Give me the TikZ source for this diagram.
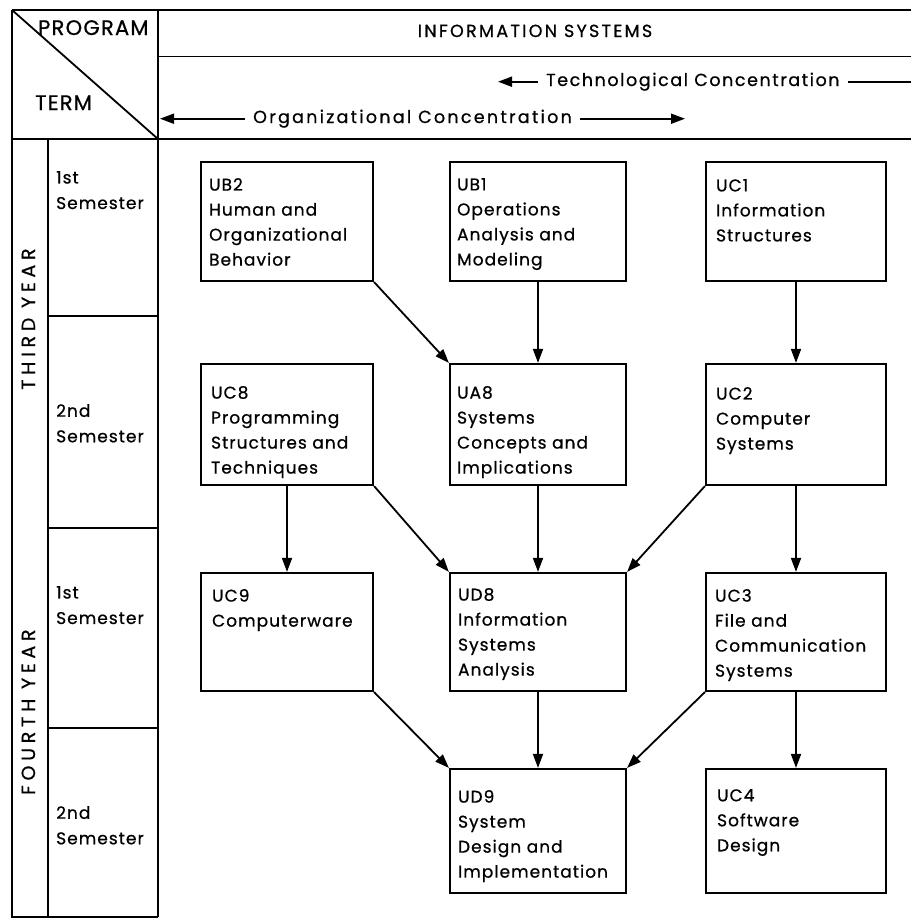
\documentclass[tikz,border=0pt]{standalone}
\usepackage{fontspec}
\setmainfont{Poppins}[LetterSpace=6,FakeBold=0.7]
\newfontfamily\yearfont{Poppins}[LetterSpace=25,FakeBold=0.7]
\newfontfamily\headfont{Poppins}[LetterSpace=13,FakeBold=0.7]
\newfontfamily\techfont{Poppins}[LetterSpace=9,FakeBold=0.7]
\usetikzlibrary{arrows.meta}

\begin{document}
\begin{tikzpicture}[x=1pt,y=-1pt,
  rule/.style={line width=1.8pt},
  box/.style 2 args={draw, line width=2.2pt, inner sep=0pt,
                     minimum width=#1, minimum height=#2},
  btxt/.style={font=\fontsize{17}{25}\selectfont, align=left, inner sep=0pt, anchor=north west},
  semtxt/.style={font=\fontsize{17}{25.5}\selectfont, align=left, inner sep=0pt, anchor=north west},
  headtxt/.style={font=\headfont\fontsize{17.5}{20}\selectfont, inner sep=0pt, anchor=base west},
  bigtxt/.style={font=\fontsize{21}{24}\selectfont, inner sep=0pt, anchor=base west},
  yeartxt/.style={font=\yearfont\fontsize{19}{20}\selectfont, inner sep=0pt, rotate=90, anchor=base west},
  arr/.style={line width=1.8pt, -{Triangle[length=14pt,width=10pt]}}]

% canvas
\fill[white] (0,0) rectangle (911,919);
\useasboundingbox (0,0) rectangle (911,919);

% table grid
\draw[rule] (12,10) -- (911,10);
\draw[rule] (158,56.5) -- (911,56.5);
\draw[rule] (12,139) -- (911,139);
\draw[rule] (12,10) -- (12,917) -- (158,917);
\draw[rule] (158,10) -- (158,917);
\draw[rule] (48,139) -- (48,917);
\draw[rule] (12,10) -- (158,139);
\draw[rule] (48,316) -- (158,316);
\draw[rule] (48,528) -- (158,528);
\draw[rule] (48,728) -- (158,728);

% header
\node[bigtxt] (prog) at (38,35) {PROGRAM};
\node[bigtxt] (term) at (35,110) {TERM};
\node[headtxt, anchor=base] (infosys) at (535,37) {INFORMATION SYSTEMS};

\node[headtxt, font=\techfont\fontsize{17.5}{20}\selectfont] (tech) at (546,86) {Technological Concentration};
\coordinate (techL) at (498,80);
\coordinate (techR) at (911,80);
\draw[arr] ([xshift=-8pt]tech.west) -- (techL |- tech.west);
\draw[line width=1.8pt] ([xshift=8pt]tech.east) -- (techR |- tech.east);

\node[headtxt] (org) at (253,123) {Organizational Concentration};
\coordinate (orgL) at (160,117);
\coordinate (orgR) at (685,117);
\draw[arr] ([xshift=-8pt]org.west) -- (orgL |- org.west);
\draw[arr] ([xshift=8pt]org.east) -- (orgR |- org.east);

% years and terms
\node[yeartxt] (y3) at (35,390) {THIRD YEAR};
\node[yeartxt] (y4) at (35,795) {FOURTH YEAR};

\node[semtxt] (t1) at (56,171) {1st\\Semester};
\node[semtxt] (t2) at (56,404) {2nd\\Semester};
\node[semtxt] (t3) at (56,586) {1st\\Semester};
\node[semtxt] (t4) at (56,806) {2nd\\Semester};

% course boxes
\node[box={172pt}{119pt}] (ub2) at (287,221.5) {};
\node[box={176pt}{119pt}] (ub1) at (538,221.5) {};
\node[box={180pt}{119pt}] (uc1) at (796,221.5) {};

\node[box={172pt}{121pt}] (uc8) at (287,424.5) {};
\node[box={176pt}{121pt}] (ua8) at (538,424.5) {};
\node[box={180pt}{121pt}] (uc2) at (796,424.5) {};

\node[box={172pt}{118pt}] (uc9) at (287,632) {};
\node[box={176pt}{118pt}] (ud8) at (538,632) {};
\node[box={180pt}{118pt}] (uc3) at (796,632) {};

\node[box={176pt}{124pt}] (ud9) at (538,831) {};
\node[box={180pt}{124pt}] (uc4) at (796,831) {};

% course texts
\node[btxt] (ub2t) at ([shift={(9,17)}]ub2.north west) {UB2\\Human and\\Organizational\\Behavior};
\node[btxt] (ub1t) at ([shift={(8,17)}]ub1.north west) {UB1\\Operations\\Analysis and\\Modeling};
\node[btxt] (uc1t) at ([shift={(11,18)}]uc1.north west) {UC1\\Information\\Structures};

\node[btxt] (uc8t) at ([shift={(11,23)}]uc8.north west) {UC8\\Programming\\Structures and\\Techniques};
\node[btxt] (ua8t) at ([shift={(8,23)}]ua8.north west) {UA8\\Systems\\Concepts and\\Implications};
\node[btxt] (uc2t) at ([shift={(11,24)}]uc2.north west) {UC2\\Computer\\Systems};

\node[btxt] (uc9t) at ([shift={(12,17)}]uc9.north west) {UC9\\Computerware};
\node[btxt] (ud8t) at ([shift={(9,16)}]ud8.north west) {UD8\\Information\\Systems\\Analysis};
\node[btxt] (uc3t) at ([shift={(10,17)}]uc3.north west) {UC3\\File and\\Communication\\Systems};

\node[btxt] (ud9t) at ([shift={(9,22)}]ud9.north west) {UD9\\System\\Design and\\Implementation};
\node[btxt] (uc4t) at ([shift={(12,21)}]uc4.north west) {UC4\\Software\\Design};

% prerequisites
\draw[arr] (ub2.south east) -- (ua8.north west);
\draw[arr] (ub1.south) -- (ua8.north);
\draw[arr] (uc1.south) -- (uc2.north);

\draw[arr] (uc8.south) -- (uc9.north);
\draw[arr] (uc8.south east) -- (ud8.north west);
\draw[arr] (ua8.south) -- (ud8.north);
\draw[arr] (uc2.south west) -- (ud8.north east);
\draw[arr] (uc2.south) -- (uc3.north);

\draw[arr] (uc9.south east) -- (ud9.north west);
\draw[arr] (ud8.south) -- (ud9.north);
\draw[arr] (uc3.south west) -- (ud9.north east);
\draw[arr] (uc3.south) -- (uc4.north);

\end{tikzpicture}
\end{document}
